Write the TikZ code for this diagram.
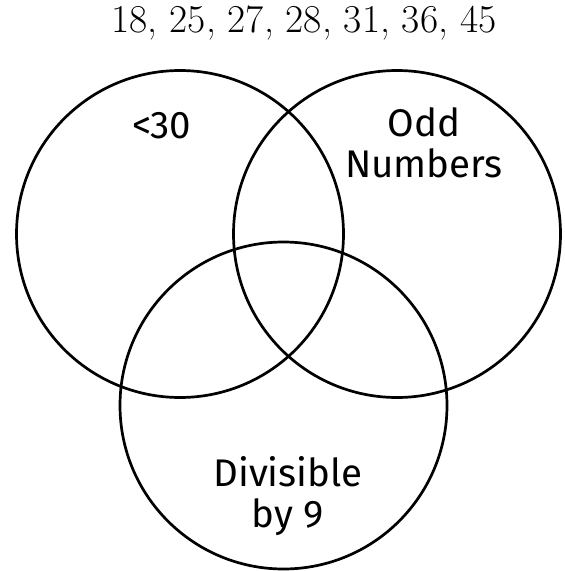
\documentclass[tikz,border=0pt]{standalone}
\usepackage{fontspec}
\newfontfamily\lblfont{Fira Sans}

\begin{document}
\begin{tikzpicture}[x=1pt, y=-1pt,
    set/.style={draw, circle, line width=2.7pt, minimum size=327pt, inner sep=0pt},
    lbl/.style={font=\lblfont\fontsize{38.5}{40.5}\selectfont, align=center, inner sep=0pt},
    nums/.style={font=\fontsize{39.5}{42}\selectfont, inner sep=0pt}
]
\useasboundingbox (0,0) rectangle (565,571);

\node[nums, anchor=base] (list) at (304,32) {18, 25, 27, 28, 31, 36, 45};

\node[set] (less) at (180,234) {};
\node[set] (odd) at (397,234) {};
\node[set] (nine) at (283.5,405.5) {};

\node[lbl, anchor=base] (lessLbl) at (162,138) {<30};
\node[lbl, anchor=base] (oddLbl) at (424,177) {Odd\\Numbers};
\node[lbl, anchor=base] (nineLbl) at (288,527) {Divisible\\by 9};
\end{tikzpicture}
\end{document}
